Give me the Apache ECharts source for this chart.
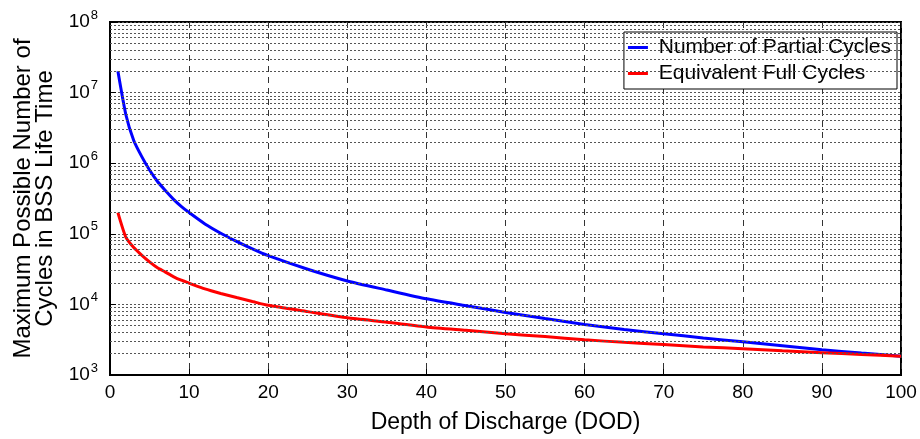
<!DOCTYPE html>
<html>
<head>
<meta charset="utf-8">
<script src="https://cdn.jsdelivr.net/npm/echarts@6/dist/echarts.min.js"></script>
<style>
  html, body { margin: 0; padding: 0; background: #fff; }
  #chart { width: 920px; height: 439px; }
</style>
</head>
<body>
<div id="chart"></div>
<script>
// depth of discharge (%) at which values were read
const dod = [1, 2, 3, 4, 5, 6, 7, 8, 9, 10, 12, 14, 16, 18, 20, 25, 30, 35, 40, 45,
  50, 55, 60, 65, 70, 75, 80, 85, 90, 95, 100];

// number of partial cycles (blue)
const partialCycles = [2.0e7, 4.9e6, 2.1e6, 1.25e6, 8.0e5, 5.5e5, 4.1e5, 3.1e5, 2.45e5, 2.0e5,
  1.38e5, 1.02e5, 7.8e4, 6.1e4, 4.9e4, 3.15e4, 2.15e4, 1.6e4, 1.2e4, 9.6e3,
  7.7e3, 6.3e3, 5.2e3, 4.4e3, 3.85e3, 3.35e3, 2.95e3, 2.6e3, 2.28e3, 2.05e3, 1.85e3];

// equivalent full cycles (red)
const fullCycles = [2.0e5, 9.0e4, 6.4e4, 5.0e4, 4.0e4, 3.3e4, 2.87e4, 2.48e4, 2.2e4, 2.0e4,
  1.66e4, 1.43e4, 1.25e4, 1.1e4, 9.7e3, 7.9e3, 6.45e3, 5.6e3, 4.8e3, 4.3e3,
  3.85e3, 3.5e3, 3.15e3, 2.9e3, 2.7e3, 2.5e3, 2.35e3, 2.2e3, 2.07e3, 1.95e3, 1.85e3];

// minor log grid levels (2..9 x 10^k)
const minorLevels = [2, 3, 4, 5, 6, 7, 8, 9];
const decades = [3, 4, 5, 6, 7];

const font = 'Liberation Sans, Arial, sans-serif';

const gridLines = [];
decades.forEach(d => {
  minorLevels.forEach(m => gridLines.push({ yAxis: m * Math.pow(10, d) }));
});

const chart = echarts.init(document.getElementById('chart'));

chart.setOption({
  animation: false,
  backgroundColor: '#fff',
  grid: {
    left: 110,
    right: 19,
    top: 22,
    bottom: 63,
    show: true,
    borderColor: '#000',
    borderWidth: 2,
    backgroundColor: 'transparent'
  },
  legend: {
    orient: 'vertical',
    right: 23,
    top: 32,
    data: ['Number of Partial Cycles', 'Equivalent Full Cycles'],
    formatter: name => ' ' + name,
    icon: 'rect',
    itemWidth: 20,
    itemHeight: 3,
    itemGap: 5,
    padding: [5, 6, 5, 4],
    backgroundColor: '#fff',
    borderColor: '#000',
    borderWidth: 1,
    textStyle: { fontFamily: font, fontSize: 21, color: '#000' }
  },
  xAxis: {
    type: 'value',
    min: 0,
    max: 100,
    interval: 10,
    name: 'Depth of Discharge (DOD)',
    nameLocation: 'middle',
    nameGap: 36,
    nameTextStyle: { fontFamily: font, fontSize: 23, color: '#000' },
    axisLine: { show: true, lineStyle: { color: '#000', width: 2 } },
    axisTick: { show: true, inside: true, length: 6, lineStyle: { color: '#000' } },
    axisLabel: { fontFamily: font, fontSize: 19, color: '#000', margin: 8 },
    splitLine: { show: true, lineStyle: { color: '#333', type: [6, 5], width: 1 } }
  },
  yAxis: {
    type: 'log',
    logBase: 10,
    min: 1e3,
    max: 1e8,
    interval: 1,
    name: 'Maximum Possible Number of\nCycles in BSS Life Time',
    nameLocation: 'middle',
    nameGap: 53,
    nameTextStyle: { fontFamily: font, fontSize: 24, color: '#000', lineHeight: 22 },
    axisLine: { show: true, lineStyle: { color: '#000', width: 2 } },
    axisTick: { show: true, inside: true, length: 6, lineStyle: { color: '#000' } },
    axisLabel: {
      margin: 12,
      formatter: function (v) {
        return '{b|10}{s|' + Math.round(Math.log10(v)) + '}';
      },
      rich: {
        b: { fontFamily: font, fontSize: 19, color: '#000' },
        s: { fontFamily: font, fontSize: 13, color: '#000', padding: [0, 0, 14, 1] }
      }
    },
    splitLine: { show: true, lineStyle: { color: '#555', type: [2, 2], width: 1 } }
  },
  series: [
    {
      name: 'grid',
      type: 'line',
      data: [],
      z: 1,
      silent: true,
      markLine: {
        silent: true,
        symbol: 'none',
        label: { show: false },
        lineStyle: { color: '#555', type: [2, 2], width: 1 },
        data: gridLines
      }
    },
    {
      name: 'Number of Partial Cycles',
      type: 'line',
      showSymbol: false,
      smooth: 0.2,
      z: 3,
      lineStyle: { color: '#0000ff', width: 3 },
      itemStyle: { color: '#0000ff' },
      data: dod.map((d, i) => [d, partialCycles[i]])
    },
    {
      name: 'Equivalent Full Cycles',
      type: 'line',
      showSymbol: false,
      smooth: 0.2,
      z: 3,
      lineStyle: { color: '#ff0000', width: 3 },
      itemStyle: { color: '#ff0000' },
      data: dod.map((d, i) => [d, fullCycles[i]])
    }
  ]
});
</script>
</body>
</html>
